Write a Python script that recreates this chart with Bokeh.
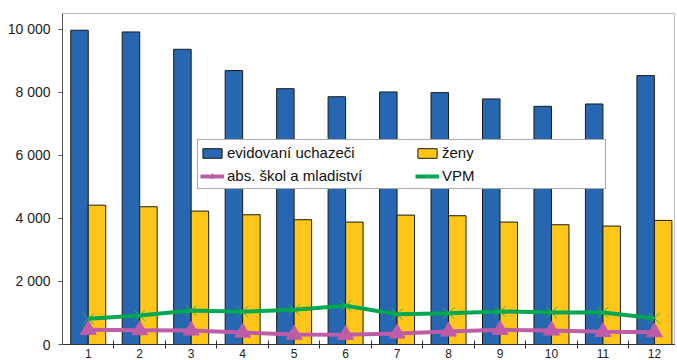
from bokeh.plotting import figure
from bokeh.models import ColumnDataSource, Range1d, FixedTicker, Legend, LegendItem
from bokeh.transform import dodge
from bokeh.embed import file_html
from bokeh.resources import INLINE

months = [1, 2, 3, 4, 5, 6, 7, 8, 9, 10, 11, 12]
uchazeci = [9970, 9915, 9365, 8690, 8115, 7860, 8010, 7990, 7790, 7555, 7630, 8530]
zeny = [4420, 4370, 4232, 4116, 3958, 3883, 4105, 4085, 3883, 3799, 3757, 3937]
absolventi = [466, 455, 445, 380, 317, 307, 350, 413, 466, 445, 402, 392]
vpm = [816, 920, 1080, 1038, 1100, 1228, 962, 995, 1048, 1016, 1016, 835]
y_ticks = [0, 2000, 4000, 6000, 8000, 10000]
y_tick_labels = ["0", "2 000", "4 000", "6 000", "8 000", "10 000"]
series_names = ["evidovaní uchazeči", "ženy", "abs. škol a mladiství", "VPM"]

src = ColumnDataSource(dict(x=months, u=uchazeci, z=zeny, a=absolventi, v=vpm))

p = figure(frame_width=613, frame_height=331, output_backend="svg", toolbar_location=None,
           x_range=Range1d(0.5, 12.41), y_range=Range1d(0, 10500),
           min_border_left=62, min_border_right=0, min_border_top=13, min_border_bottom=0)
p.xgrid.visible = False
p.ygrid.visible = False
p.outline_line_color = "#bdbdbd"
p.outline_line_width = 1
p.background_fill_color = "white"
p.border_fill_color = "white"

bw = 0.34
r_u = p.vbar(x=dodge("x", -bw / 2), top="u", width=bw, source=src,
             fill_color="#2767B1", line_color="#1a1a1a", line_width=1)
r_z = p.vbar(x=dodge("x", bw / 2), top="z", width=bw, source=src,
             fill_color="#FFC61A", line_color="#1a1a1a", line_width=1)

r_al = p.line("x", "a", source=src, line_color="#BE5CA8", line_width=4)
r_am = p.scatter("x", "a", source=src, marker="triangle", size=16,
                 fill_color="#BE5CA8", line_color="#BE5CA8")
r_vl = p.line("x", "v", source=src, line_color="#00A650", line_width=4)
r_vm = p.scatter("x", "v", source=src, marker="x", size=16,
                 line_color="#1DB954", line_width=1)

# axes
p.yaxis.ticker = FixedTicker(ticks=y_ticks)
p.yaxis.major_label_overrides = {t: l for t, l in zip(y_ticks, y_tick_labels)}
p.yaxis.major_label_text_font = "Liberation Sans"
p.yaxis.major_label_text_font_size = "14px"
p.yaxis.major_label_text_color = "#222222"
p.yaxis.major_label_standoff = 8
p.yaxis.major_tick_in = 0
p.yaxis.major_tick_out = 4
p.yaxis.minor_tick_line_color = None
p.yaxis.axis_line_color = "#555555"
p.yaxis.major_tick_line_color = "#555555"

p.xaxis.ticker = FixedTicker(ticks=months, minor_ticks=[m + 0.5 for m in months[:-1]])
p.xaxis.major_label_text_font = "Liberation Sans"
p.xaxis.major_label_text_font_size = "12px"
p.xaxis.major_label_text_color = "#222222"
p.xaxis.major_label_standoff = 0
p.xaxis.major_tick_in = 0
p.xaxis.major_tick_out = 0
p.xaxis.minor_tick_in = 4
p.xaxis.minor_tick_out = 4
p.xaxis.minor_tick_line_color = "#333333"
p.xaxis.axis_line_color = "#333333"

common = dict(orientation="vertical", label_text_font="Liberation Sans",
              label_text_font_size="15px", label_text_color="#111111",
              glyph_width=24, glyph_height=12, label_height=21, label_standoff=3,
              spacing=2, padding=2, margin=0)

legend_a = Legend(items=[
    LegendItem(label=series_names[0], renderers=[r_u]),
    LegendItem(label=series_names[2], renderers=[r_al, r_am]),
], location=(135, 155), label_width=376,
    border_line_color="#555555", border_line_width=1,
    background_fill_color="white", background_fill_alpha=1.0, **common)
legend_b = Legend(items=[
    LegendItem(label=series_names[1], renderers=[r_z]),
    LegendItem(label=series_names[3], renderers=[r_vl, r_vm]),
], location=(353, 158), label_width=100,
    border_line_color=None, background_fill_alpha=0.0, **common)
p.add_layout(legend_a, "center")
p.add_layout(legend_b, "center")

open("out.html", "w").write(file_html(p, INLINE))
